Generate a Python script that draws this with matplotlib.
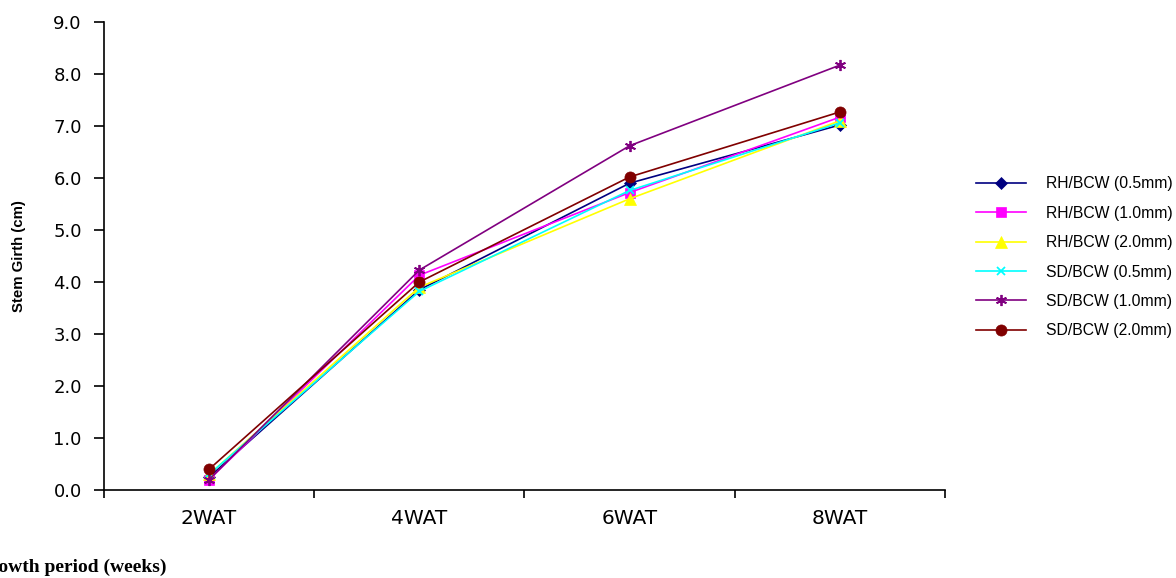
import matplotlib
matplotlib.use('Agg')
import matplotlib.pyplot as plt
import numpy as np

# Data
periods = ['2WAT', '4WAT', '6WAT', '8WAT']
rh_05 = [0.25, 3.85, 5.90, 7.02]
rh_10 = [0.20, 4.13, 5.72, 7.17]
rh_20 = [0.30, 3.90, 5.60, 7.10]
sd_05 = [0.30, 3.82, 5.76, 7.06]
sd_10 = [0.20, 4.23, 6.62, 8.17]
sd_20 = [0.40, 4.00, 6.02, 7.27]

series = [
    ('RH/BCW (0.5mm)', rh_05, '#000080', 'D', 6),
    ('RH/BCW (1.0mm)', rh_10, '#FF00FF', 's', 7),
    ('RH/BCW (2.0mm)', rh_20, '#FFFF00', '^', 8),
    ('SD/BCW (0.5mm)', sd_05, '#00FFFF', 'x', 6),
    ('SD/BCW (1.0mm)', sd_10, '#800080', (6, 2, 0), 8),
    ('SD/BCW (2.0mm)', sd_20, '#800000', 'o', 8),
]

plt.rcParams['font.family'] = ['DejaVu Sans']

fig = plt.figure(figsize=(11.76, 5.78), dpi=100)
ax = fig.add_axes([0.0884, 0.1522, 0.7152, 0.8098])

x = np.arange(len(periods))
for label, vals, color, marker, ms in series:
    ax.plot(x, vals, color=color, marker=marker, markersize=ms, linewidth=1.2,
            markeredgewidth=1.3 if marker in ('x', (6, 2, 0)) else 0.5,
            markeredgecolor=color, label=label)

ax.set_xlim(-0.5, len(periods) - 0.5)
ax.set_ylim(0, 9)
ax.set_yticks(np.arange(0, 9.1, 1.0))
ax.set_yticklabels([f'{v:.1f}' for v in np.arange(0, 9.1, 1.0)], fontsize=13)

# categories labelled at centres, ticks at boundaries
ax.set_xticks(np.arange(-0.5, len(periods), 1.0))
ax.set_xticklabels([])
ax.set_xticks(x, minor=True)
ax.set_xticklabels(periods, minor=True, fontsize=14.5)
ax.tick_params(axis='x', which='minor', length=0, pad=14)
ax.tick_params(axis='x', which='major', length=6, direction='out', width=1.2)
ax.tick_params(axis='y', length=7, direction='out', width=1.2, pad=9)

ax.spines['top'].set_visible(False)
ax.spines['right'].set_visible(False)
ax.spines['left'].set_linewidth(1.2)
ax.spines['bottom'].set_linewidth(1.2)

ax.set_ylabel('Stem Girth (cm)', fontsize=10.8, fontweight='bold',
              family='Liberation Sans')
ax.yaxis.set_label_coords(-0.093, 0.5)

fig.text(-0.021, 0.003, 'Growth period (weeks)', family='Liberation Serif',
         fontweight='bold', fontsize=14, ha='left', va='bottom')

ax.legend(loc='upper left', bbox_to_anchor=(0.8245, 0.706), bbox_transform=fig.transFigure,
          frameon=False, prop={'family': 'Liberation Sans', 'size': 11.3},
          handlelength=3.2, labelspacing=0.92, handletextpad=1.25, borderaxespad=0)

plt.savefig('out.png', dpi=100)
